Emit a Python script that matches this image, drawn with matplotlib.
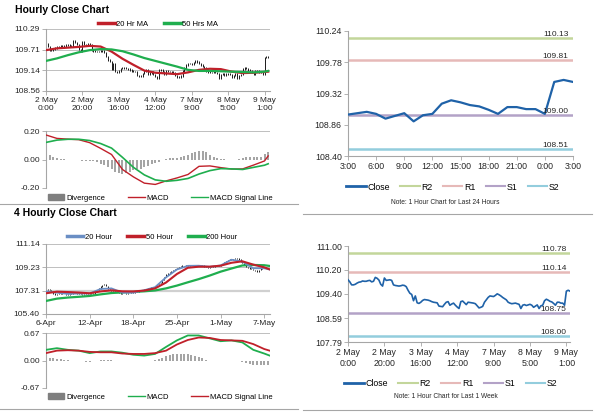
import matplotlib.pyplot as plt
from matplotlib.lines import Line2D
from matplotlib.patches import Patch
import numpy as np

plt.rcParams['font.family'] = ['Liberation Sans', 'DejaVu Sans']

# hourly close, 2 May 0:00 -> 9 May 3:00 (trading hours)
close_1h = [109.87, 109.80, 109.70, 109.70, 109.72, 109.76, 109.79, 109.80, 109.83, 109.82,
            109.82, 109.84, 109.85, 109.80, 109.82, 109.95, 109.92, 109.86, 109.72, 109.66,
            109.93, 109.85, 109.86, 109.87, 109.85, 109.70, 109.68, 109.67, 109.66, 109.67,
            109.69, 109.68, 109.64, 109.52, 109.42, 109.38, 109.17, 109.33, 109.10, 109.08,
            109.12, 109.18, 109.21, 109.20, 109.19, 109.17, 109.14, 109.12, 109.11, 109.10,
            108.99, 108.98, 108.97, 109.05, 109.12, 109.14, 109.02, 109.06, 109.09, 109.02,
            108.96, 108.91, 109.14, 109.16, 109.10, 109.04, 109.12, 109.11, 109.10, 109.09,
            109.07, 109.00, 108.93, 108.95, 108.98, 109.12, 109.20, 109.28, 109.33, 109.32,
            109.31, 109.35, 109.40, 109.37, 109.33, 109.28, 109.24, 109.20, 109.12, 109.09,
            109.07, 109.08, 109.09, 109.07, 109.05, 108.91, 109.02, 109.04,
            109.01, 109.03, 109.05, 109.02, 108.95, 108.99, 109.03, 108.91, 109.00, 109.02,
            109.17, 109.22, 109.19, 109.15, 109.13, 109.08, 109.02, 109.12, 109.12, 109.09,
            109.09, 109.02, 109.49, 109.52, 109.49]
hour_ticks = [0, 20, 40, 60, 80, 100, 120]
hour_labels = ['2 May\n0:00', '2 May\n20:00', '3 May\n16:00', '4 May\n12:00',
               '7 May\n9:00', '8 May\n5:00', '9 May\n1:00']

# moving averages and MACD of the hourly chart, read every 6 hours
ma_hours = list(range(0, 121, 6)) + [122]
ma20_1h = [109.70, 109.75, 109.77, 109.79, 109.82, 109.80, 109.66, 109.46, 109.29, 109.13, 109.07,
           109.05, 109.03, 109.08, 109.15, 109.18, 109.17, 109.10, 109.06, 109.07, 109.09, 109.10]
ma50_1h = [109.40, 109.47, 109.56, 109.64, 109.70, 109.73, 109.72, 109.67, 109.58, 109.48, 109.40,
           109.32, 109.24, 109.15, 109.12, 109.12, 109.11, 109.10, 109.09, 109.08, 109.10, 109.12]
macd_1h = [0.172, 0.148, 0.143, 0.139, 0.118, 0.078, 0.035, -0.070, -0.122, -0.166, -0.175,
           -0.150, -0.129, -0.105, -0.048, -0.045, -0.057, -0.067, -0.066, -0.039, -0.010, 0.025]
signal_1h = [0.120, 0.136, 0.142, 0.142, 0.133, 0.112, 0.080, 0.015, -0.055, -0.108, -0.143,
             -0.153, -0.146, -0.133, -0.102, -0.078, -0.064, -0.066, -0.070, -0.055, -0.040, -0.030]
div_hours = list(range(0, 123, 2))
div_1h = [0.040, 0.030, 0.015, 0.008, 0.004, 0.002, 0.000, -0.002, -0.004, -0.006, -0.008,
          -0.010, -0.012, -0.014, -0.020, -0.030, -0.040, -0.055, -0.070, -0.085, -0.095, -0.100,
          -0.095, -0.085, -0.075, -0.070, -0.065, -0.055, -0.045, -0.035, -0.025, -0.015, -0.005,
          0.005, 0.010, 0.012, 0.010, 0.015, 0.025, 0.035, 0.045, 0.055, 0.060, 0.058, 0.050,
          0.035, 0.020, 0.010, 0.004, 0.002, 0.000, -0.002, 0.000, 0.004, 0.010, 0.015, 0.018,
          0.020, 0.018, 0.015, 0.040, 0.055]

# last 24 hours
day_labels = ['3:00', '6:00', '9:00', '12:00', '15:00', '18:00', '21:00', '0:00', '3:00']
levels_day = {'R2': 110.13, 'R1': 109.81, 'S1': 109.00, 'S2': 108.51}
levels_week = {'R2': 110.78, 'R1': 110.14, 'S1': 108.75, 'S2': 108.00}
level_colors = {'R2': '#c3d69b', 'R1': '#e6b9b8', 'S1': '#b3a2c7', 'S2': '#93cddd'}

# 4 hourly close, 6 Apr -> 7 May
close_4h = [107.37, 107.42, 107.35, 107.25, 107.10, 106.96, 107.05, 107.10, 107.08, 107.05,
            107.04, 107.00, 106.96, 107.02, 107.10, 107.15, 107.12, 107.10, 107.08, 107.05,
            107.01, 107.05, 107.08, 107.10, 107.10, 107.12, 107.10, 107.20, 107.37, 107.50,
            107.64, 107.78, 107.83, 107.70, 107.45, 107.38, 107.31, 107.28, 107.25, 107.23,
            107.15, 107.08, 107.04, 107.06, 107.10, 107.12, 107.14, 107.15, 107.18, 107.21,
            107.23, 107.28, 107.34, 107.38, 107.40, 107.42, 107.48, 107.53, 107.56, 107.62,
            107.68, 107.72, 107.85, 107.95, 108.20, 108.45, 108.65, 108.74, 108.80, 108.92,
            109.01, 109.10, 109.16, 109.25, 109.30, 109.40, 109.42, 109.39, 109.37, 109.35,
            109.34, 109.33, 109.34, 109.35, 109.37, 109.39, 109.36, 109.30, 109.24, 109.23,
            109.26, 109.28, 109.30, 109.33, 109.34, 109.36, 109.40, 109.48, 109.65, 109.75,
            109.82, 109.85, 109.88, 109.92, 109.95, 109.97, 109.85, 109.72, 109.58, 109.40,
            109.25, 109.20, 109.15, 109.08, 109.01, 108.95, 108.87, 109.00, 109.15, 109.22,
            109.23, 109.18, 109.12, 109.01]
bar4_ticks = [0, 24, 48, 72, 96, 120]
bar4_labels = ['6-Apr', '12-Apr', '18-Apr', '25-Apr', '1-May', '7-May']

ma_bars = list(range(0, 121, 6)) + [123]
ma20_4h = [107.25, 107.15, 107.05, 107.08, 107.08, 107.45, 107.50, 107.15, 107.15, 107.35, 107.60,
           108.40, 109.05, 109.35, 109.36, 109.27, 109.38, 109.85, 109.70, 109.15, 109.15, 109.05]
ma50_4h = [107.10, 107.23, 107.20, 107.16, 107.10, 107.25, 107.34, 107.26, 107.25, 107.32, 107.50,
           107.98, 108.68, 109.19, 109.28, 109.28, 109.36, 109.60, 109.72, 109.45, 109.23, 109.06]
ma200_4h = [106.47, 106.66, 106.75, 106.81, 106.88, 107.01, 107.12, 107.17, 107.21, 107.26, 107.33,
            107.50, 107.73, 108.00, 108.26, 108.55, 108.87, 109.13, 109.38, 109.42, 109.40, 109.34]
macd_4h = [0.26, 0.30, 0.26, 0.24, 0.18, 0.22, 0.22, 0.19, 0.14, 0.12, 0.16,
           0.33, 0.49, 0.61, 0.61, 0.54, 0.47, 0.49, 0.44, 0.26, 0.17, 0.12]
signal_4h = [0.18, 0.24, 0.25, 0.24, 0.21, 0.20, 0.20, 0.17, 0.16, 0.16, 0.18,
             0.24, 0.39, 0.50, 0.56, 0.55, 0.50, 0.49, 0.48, 0.40, 0.28, 0.24]
div_bars = list(range(0, 123, 2))
div_4h = [0.08, 0.07, 0.05, 0.04, 0.03, 0.02, 0.01, 0.00, -0.01, -0.01, -0.02, -0.03, -0.03,
          -0.02, 0.00, 0.01, 0.02, 0.02, 0.01, 0.00, -0.01, -0.02, -0.02, -0.02, -0.02, -0.02,
          -0.01, -0.01, -0.01, 0.00, 0.01, 0.03, 0.07, 0.10, 0.13, 0.15, 0.16, 0.17, 0.17, 0.16,
          0.14, 0.11, 0.08, 0.05, 0.02, 0.00, -0.01, -0.02, -0.02, -0.02, -0.01, 0.00, 0.00,
          -0.01, -0.03, -0.06, -0.09, -0.11, -0.12, -0.12, -0.12, -0.12]

RED = '#c0202a'
GREEN = '#1fae4e'
BLUE = '#6a8ec4'
CLOSE = '#1f62a8'
GRAY = '#a6a6a6'
DIV = '#8a8a8a'
TXT = '#262626'

W, H = 600, 413


def box(left, top, right, bottom):
    return [left / W, 1 - bottom / H, (right - left) / W, (bottom - top) / H]


def style(ax, fs=6):
    for s in ['top', 'right']:
        ax.spines[s].set_visible(False)
    for s in ['left', 'bottom']:
        ax.spines[s].set_color(GRAY)
        ax.spines[s].set_linewidth(0.8)
    ax.tick_params(labelsize=fs, colors=GRAY, labelcolor=TXT, length=3, width=0.6, pad=1.5)


def hgrid(ax, ticks):
    for t in ticks:
        ax.axhline(t, color='#bfbfbf', lw=0.7, zorder=0)


def price_bars(ax, close):
    close = np.asarray(close)
    x = np.arange(len(close))
    prev = np.r_[close[0], close[:-1]]
    lo = np.minimum(prev, close) - 0.02
    hi = np.maximum(prev, close) + 0.02
    ax.vlines(x, lo, hi, color='#1a1a1a', lw=0.7, zorder=2)


def div_bars_draw(ax, x, y):
    # thin grey stripes for the MACD divergence
    ax.vlines(x, 0, y, color=DIV, lw=1.1, zorder=1)


def legend(handles, labels, x, y, fs=5.5, spacing=2.0):
    fig.legend(handles, labels, loc='center', bbox_to_anchor=(x / W, 1 - y / H),
               ncol=len(labels), frameon=False, fontsize=fs, handlelength=2.2,
               handletextpad=0.2, columnspacing=spacing, borderaxespad=0)


def sep(x0, x1, y):
    fig.add_artist(Line2D([x0 / W, x1 / W], [1 - y / H, 1 - y / H], color=GRAY, lw=0.8))


fig = plt.figure(figsize=(6, 4.13), dpi=100)

fig.text(15 / W, 1 - 10 / H, 'Hourly Close Chart', fontsize=7.5, fontweight='bold', va='center')
fig.text(14 / W, 1 - 213 / H, '4 Hourly Close Chart', fontsize=7.5, fontweight='bold', va='center')

# hourly price
ax = fig.add_axes(box(46, 29, 270, 91))
style(ax)
yt = [108.56, 109.14, 109.71, 110.29]
hgrid(ax, yt)
price_bars(ax, close_1h)
ax.plot(ma_hours, ma20_1h, color=RED, lw=1.6, zorder=3)
ax.plot(ma_hours, ma50_1h, color=GREEN, lw=1.6, zorder=3)
ax.set_xlim(0, 123)
ax.set_ylim(108.56, 110.29)
ax.set_yticks(yt)
ax.set_yticklabels(['%.2f' % v for v in yt])
ax.set_xticks(hour_ticks)
ax.set_xticklabels(hour_labels)
legend([Line2D([], [], color=RED, lw=2.5), Line2D([], [], color=GREEN, lw=2.5)],
       ['20 Hr MA', '50 Hrs MA'], 158, 24)

# hourly MACD
ax = fig.add_axes(box(46, 131, 270, 188))
style(ax)
yt = [-0.2, 0.0, 0.2]
hgrid(ax, [-0.2, 0.2])
div_bars_draw(ax, div_hours, div_1h)
ax.plot(ma_hours, macd_1h, color=RED, lw=1.0, zorder=3)
ax.plot(ma_hours, signal_1h, color=GREEN, lw=1.2, zorder=3)
ax.set_xlim(0, 123)
ax.set_ylim(-0.2, 0.2)
ax.set_yticks(yt)
ax.set_yticklabels(['%.2f' % v for v in yt])
ax.set_xticks([])
ax.spines['bottom'].set_visible(False)
legend([Patch(color='#7f7f7f'), Line2D([], [], color=RED, lw=1), Line2D([], [], color=GREEN, lw=1)],
       ['Divergence', 'MACD', 'MACD Signal Line'], 160, 198, spacing=3.0)
sep(0, 298, 204)


def level_chart(ax, x, y, levels, ticks, tick_labels, xmax, label_x, lw):
    style(ax, 6.3)
    for k in ['R2', 'R1', 'S1', 'S2']:
        ax.axhline(levels[k], color=level_colors[k], lw=1.8, zorder=1)
        ax.text(label_x, levels[k], '%.2f' % levels[k], ha='right', va='bottom',
                fontsize=6, color=TXT, zorder=4)
    ax.plot(x, y, color=CLOSE, lw=lw, zorder=3)
    ax.set_xlim(0, xmax)
    ax.set_xticks(ticks)
    ax.set_xticklabels(tick_labels)


# last 24 hours
ax = fig.add_axes(box(348, 31, 573, 156))
day = close_1h[-25:]
level_chart(ax, np.arange(len(day)), day, levels_day, range(0, 25, 3), day_labels, 24, 23.5, 1.6)
yt = [108.40, 108.86, 109.32, 109.78, 110.24]
ax.set_ylim(108.40, 110.24)
ax.set_yticks(yt)
ax.set_yticklabels(['%.2f' % v for v in yt])
lh = [Line2D([], [], color=CLOSE, lw=2)] + [Line2D([], [], color=level_colors[k], lw=1.5)
                                           for k in ['R2', 'R1', 'S1', 'S2']]
legend(lh, ['Close', 'R2', 'R1', 'S1', 'S2'], 453, 187, fs=6.3, spacing=1.2)
fig.text(445 / W, 1 - 203 / H, 'Note: 1 Hour Chart for Last 24 Hours', fontsize=4.8,
         ha='center', va='center', color=TXT)
sep(303, 592, 214)

# 4 hourly price
ax = fig.add_axes(box(46, 244, 270, 314))
style(ax)
yt = [105.40, 107.31, 109.23, 111.14]
hgrid(ax, yt[1:])
ax.axhline(107.31, color='#d0d0d0', lw=1.6, zorder=0)
price_bars(ax, close_4h)
ax.plot(ma_bars, ma200_4h, color=GREEN, lw=1.6, zorder=3)
ax.plot(ma_bars, ma20_4h, color=BLUE, lw=1.3, zorder=3)
ax.plot(ma_bars, ma50_4h, color=RED, lw=1.5, zorder=3)
ax.set_xlim(0, 123.2)
ax.set_ylim(105.40, 111.14)
ax.set_yticks(yt)
ax.set_yticklabels(['%.2f' % v for v in yt])
ax.set_xticks(bar4_ticks)
ax.set_xticklabels(bar4_labels)
legend([Line2D([], [], color=BLUE, lw=2.5), Line2D([], [], color=RED, lw=2.5),
        Line2D([], [], color=GREEN, lw=2.5)], ['20 Hour', '50 Hour', '200 Hour'], 152, 237)

# 4 hourly MACD
ax = fig.add_axes(box(46, 333, 270, 388))
style(ax)
yt = [-0.67, 0.0, 0.67]
hgrid(ax, [-0.67, 0.67])
div_bars_draw(ax, div_bars, div_4h)
ax.plot(ma_bars, macd_4h, color=GREEN, lw=1.3, zorder=3)
ax.plot(ma_bars, signal_4h, color=RED, lw=1.3, zorder=3)
ax.set_xlim(0, 123.2)
ax.set_ylim(-0.67, 0.67)
ax.set_yticks(yt)
ax.set_yticklabels(['%.2f' % v for v in yt])
ax.set_xticks([])
ax.spines['bottom'].set_visible(False)
legend([Patch(color='#7f7f7f'), Line2D([], [], color=GREEN, lw=1), Line2D([], [], color=RED, lw=1)],
       ['Divergence', 'MACD', 'MACD Signal Line'], 160, 397, spacing=3.0)
sep(0, 298, 409)

# last week
ax = fig.add_axes(box(348, 246, 570, 342))
level_chart(ax, np.arange(len(close_1h)), close_1h, levels_week, hour_ticks, hour_labels,
            122, 120, 1.2)
yt = [107.79, 108.59, 109.40, 110.20, 111.00]
ax.set_ylim(107.79, 111.00)
ax.set_yticks(yt)
ax.set_yticklabels(['%.2f' % v for v in yt])
legend(lh, ['Close', 'R2', 'R1', 'S1', 'S2'], 451, 384, fs=6.3, spacing=1.2)
fig.text(446 / W, 1 - 397 / H, 'Note: 1 Hour Chart for Last 1 Week', fontsize=4.8,
         ha='center', va='center', color=TXT)
sep(303, 592, 410)

fig.savefig('out.png', dpi=100)
